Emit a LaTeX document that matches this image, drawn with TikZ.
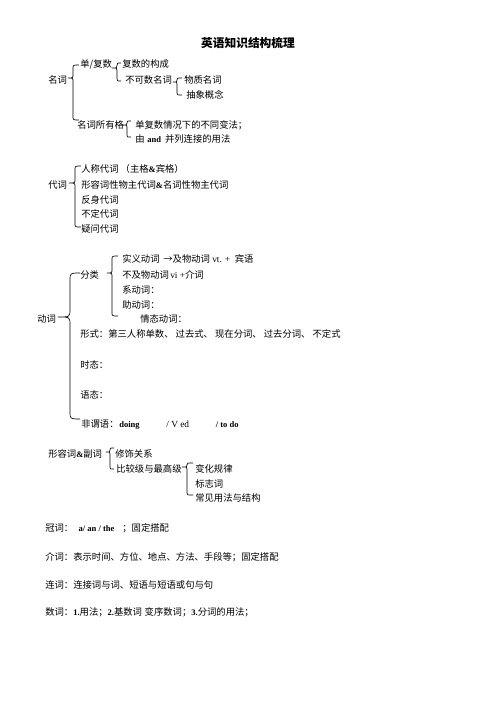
\documentclass[tikz,border=0pt]{standalone}
\usepackage{fontspec}
\setmainfont{Noto Sans CJK SC}
\newfontfamily\latf{Liberation Serif}
\newcommand\latx[1]{{\latf #1}}
\newcommand\latb[1]{{\latf\bfseries\fontsize{6.4}{8}\selectfont #1}}
\newcommand\cbr[7]{%
\draw[brc] (#3,#4) .. controls (#1,#4) .. (#1,{#4+#7}) -- (#1,{#5-#7}) .. controls (#1,#5) .. (#2,#5) .. controls (#1,#5) .. (#1,{#5+#7}) -- (#1,{#6-#7}) .. controls (#1,#6) .. (#3,#6);}
\begin{document}
\begin{tikzpicture}[x=0.75pt,y=-0.75pt,
  txt/.style={anchor=west,inner sep=0pt,text height=0.78em,text depth=0.02em,font=\fontsize{7}{8}\selectfont},
  ttl/.style={anchor=center,inner sep=0pt,font=\fontsize{8.8}{10}\selectfont\bfseries},
  brc/.style={draw=black,line width=0.5pt}]
\useasboundingbox (0,0) rectangle (496,702);
% title
\node[ttl] (title) at (248,43) {英语知识结构梳理};
% nouns
\node[txt] (n) at (48,78) {名词};
\node[txt] (n1) at (80,62) {单/复数};
\node[txt] (n11) at (122,62) {复数的构成};
\node[txt] (n12) at (125,78) {不可数名词};
\node[txt] (n121) at (184,78) {物质名词};
\node[txt] (n122) at (186,93) {抽象概念};
\node[txt] (n2) at (77,123) {名词所有格};
\node[txt] (n21) at (135,123) {单复数情况下的不同变法；};
\node[txt] (n22) at (135,137) {由\hspace{2pt}\latb{and}\hspace{3pt}并列连接的用法};
\cbr{73}{68}{79}{65}{78}{120}{4}
\cbr{117}{112}{121}{63}{68}{81}{2.5}
\cbr{177}{173}{182}{78}{82}{95}{2}
\cbr{127}{122}{131}{121}{125}{137}{2}
% pronouns
\node[txt] (p) at (48,183) {代词};
\node[txt] (p1) at (81,167) {人称代词 （主格\latb{\&}宾格）};
\node[txt] (p2) at (81,183) {形容词性物主代词\latb{\&}名词性物主代词};
\node[txt] (p3) at (81,198) {反身代词};
\node[txt] (p4) at (81,212) {不定代词};
\node[txt] (p5) at (81,227) {疑问代词};
\cbr{75}{69}{81}{166}{183}{227}{4}
% verbs
\node[txt] (v) at (37,317) {动词};
\node[txt] (v1) at (80,273) {分类};
\node[txt] (v11) at (122,257) {实义动词\hspace{2.8pt}→及物动词\hspace{1.7pt}\latx{vt. +}\hspace{3.5pt}宾语};
\node[txt] (v12) at (122,273) {不及物动词\hspace{1pt}\latx{vi +}介词};
\node[txt] (v13) at (122,288) {系动词：};
\node[txt] (v14) at (122,303) {助动词：};
\node[txt] (v15) at (140,317) {情态动词：};
\node[txt] (v2) at (80,332) {形式：第三人称单数、 过去式、 现在分词、 过去分词、 不定式};
\node[txt] (v3) at (80,363) {时态：};
\node[txt] (v4) at (80,393) {语态：};
\node[txt] (v5) at (81,422) {非谓语：\hspace{0.5pt}\latb{doing}\hspace{20pt}\latx{/ V ed}\hspace{20pt}\latb{/ to do}};
\cbr{70}{58}{80}{273}{317}{419}{8}
\cbr{112}{107}{118}{256}{273}{316}{4}
% adjectives
\node[txt] (a) at (48,452) {形容词\latb{\&}副词};
\node[txt] (a1) at (115,452) {修饰关系};
\node[txt] (a2) at (116,467) {比较级与最高级};
\node[txt] (a21) at (195,467) {变化规律};
\node[txt] (a22) at (195,482) {标志词};
\node[txt] (a23) at (195,496) {常见用法与结构};
\cbr{110}{106}{114}{448}{452}{469}{2}
\cbr{187}{182}{193}{463}{467}{495}{2}
% others
\node[txt] (art) at (45,526) {冠词：\hspace{4pt}\latb{a/ an / the}\hspace{6pt}；固定搭配};
\node[txt] (prep) at (45,555) {介词：表示时间、方位、地点、方法、手段等；固定搭配};
\node[txt] (conj) at (45,583) {连词：连接词与词、短语与短语或句与句};
\node[txt] (num) at (45,610) {数词：\latb{1.}用法；\latb{2.}基数词\hspace{2pt}变序数词；\latb{3.}分词的用法；};
\end{tikzpicture}
\end{document}
